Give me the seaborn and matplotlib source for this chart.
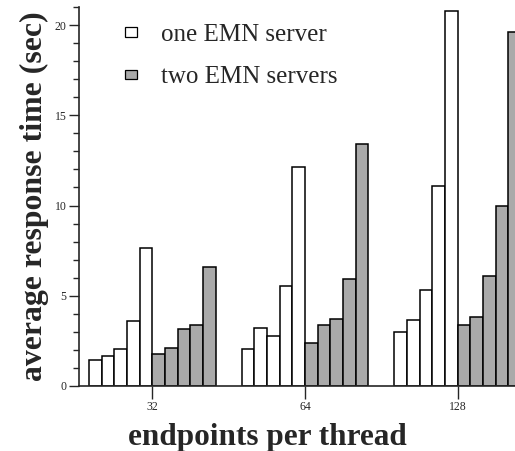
import pandas as pd
import numpy as np
import matplotlib.pyplot as plt
import seaborn as sns
from matplotlib.patches import Patch, Rectangle
from matplotlib.legend_handler import HandlerPatch
from matplotlib.ticker import MultipleLocator

# data (seconds)
endpoints = ["32", "64", "128"]
one_server_32 = [1.45, 1.65, 2.05, 3.6, 7.65]
one_server_64 = [2.05, 3.2, 2.75, 5.55, 12.15]
one_server_128 = [3.0, 3.65, 5.3, 11.1, 20.8]
two_servers_32 = [1.8, 2.1, 3.15, 3.4, 6.6]
two_servers_64 = [2.4, 3.4, 3.7, 5.95, 13.4]
two_servers_128 = [3.4, 3.8, 6.1, 10.0, 19.6]

one_server = [one_server_32, one_server_64, one_server_128]
two_servers = [two_servers_32, two_servers_64, two_servers_128]

rows = []
for g, ep in enumerate(endpoints):
    vals = one_server[g] + two_servers[g]
    for i, v in enumerate(vals):
        rows.append({"endpoints": ep, "bar": i, "time": v})
df = pd.DataFrame(rows)

sns.set_style("ticks")
plt.rcParams['font.family'] = ['Liberation Serif', 'DejaVu Serif']

fig = plt.figure(figsize=(5.15, 4.51), dpi=100)
ax = fig.add_axes([79 / 515, 1 - 386 / 451, 1 - 79 / 515, (386 - 7) / 451])

palette = ["white"] * 5 + ["#aaaaaa"] * 5
sns.barplot(data=df, x="endpoints", y="time", hue="bar", palette=palette,
            order=endpoints, width=0.83, edgecolor="black", linewidth=1.1,
            legend=False, ax=ax)

ax.set_xlim(-0.48, 2.375)
ax.set_ylim(0, 21)
ax.yaxis.set_major_locator(MultipleLocator(5))
ax.yaxis.set_minor_locator(MultipleLocator(1))
ax.tick_params(axis="y", which="major", length=7, width=1, labelsize=8.5, pad=2)
ax.tick_params(axis="y", which="minor", length=4, width=1)
ax.tick_params(axis="x", length=9, width=1, labelsize=8.5, pad=2)
sns.despine(ax=ax)
for s in ["left", "bottom"]:
    ax.spines[s].set_linewidth(1.2)

ax.set_xlabel("endpoints per thread", fontsize=22.5, fontweight="bold")
ax.xaxis.set_label_coords(0.432, -0.098)
ax.set_ylabel("average response time (sec)", fontsize=22.9, fontweight="bold", labelpad=4)


# small flat legend boxes like the original
def flat_box(legend, orig_handle, xdescent, ydescent, width, height, fontsize):
    h = 0.55 * height
    return Rectangle((-xdescent, -ydescent + (height - h) / 2), width, h)


handles = [Patch(facecolor="white", edgecolor="black", linewidth=0.9),
           Patch(facecolor="#aaaaaa", edgecolor="black", linewidth=0.9)]
ax.legend(handles, ["one EMN server", "two EMN servers"], loc="upper left",
          bbox_to_anchor=(0.053, 1.016), frameon=False, fontsize=18,
          handlelength=0.5, handleheight=0.7, handletextpad=0.95, labelspacing=0.79,
          handler_map={Patch: HandlerPatch(patch_func=flat_box)})

plt.savefig("out.png", dpi=100)
